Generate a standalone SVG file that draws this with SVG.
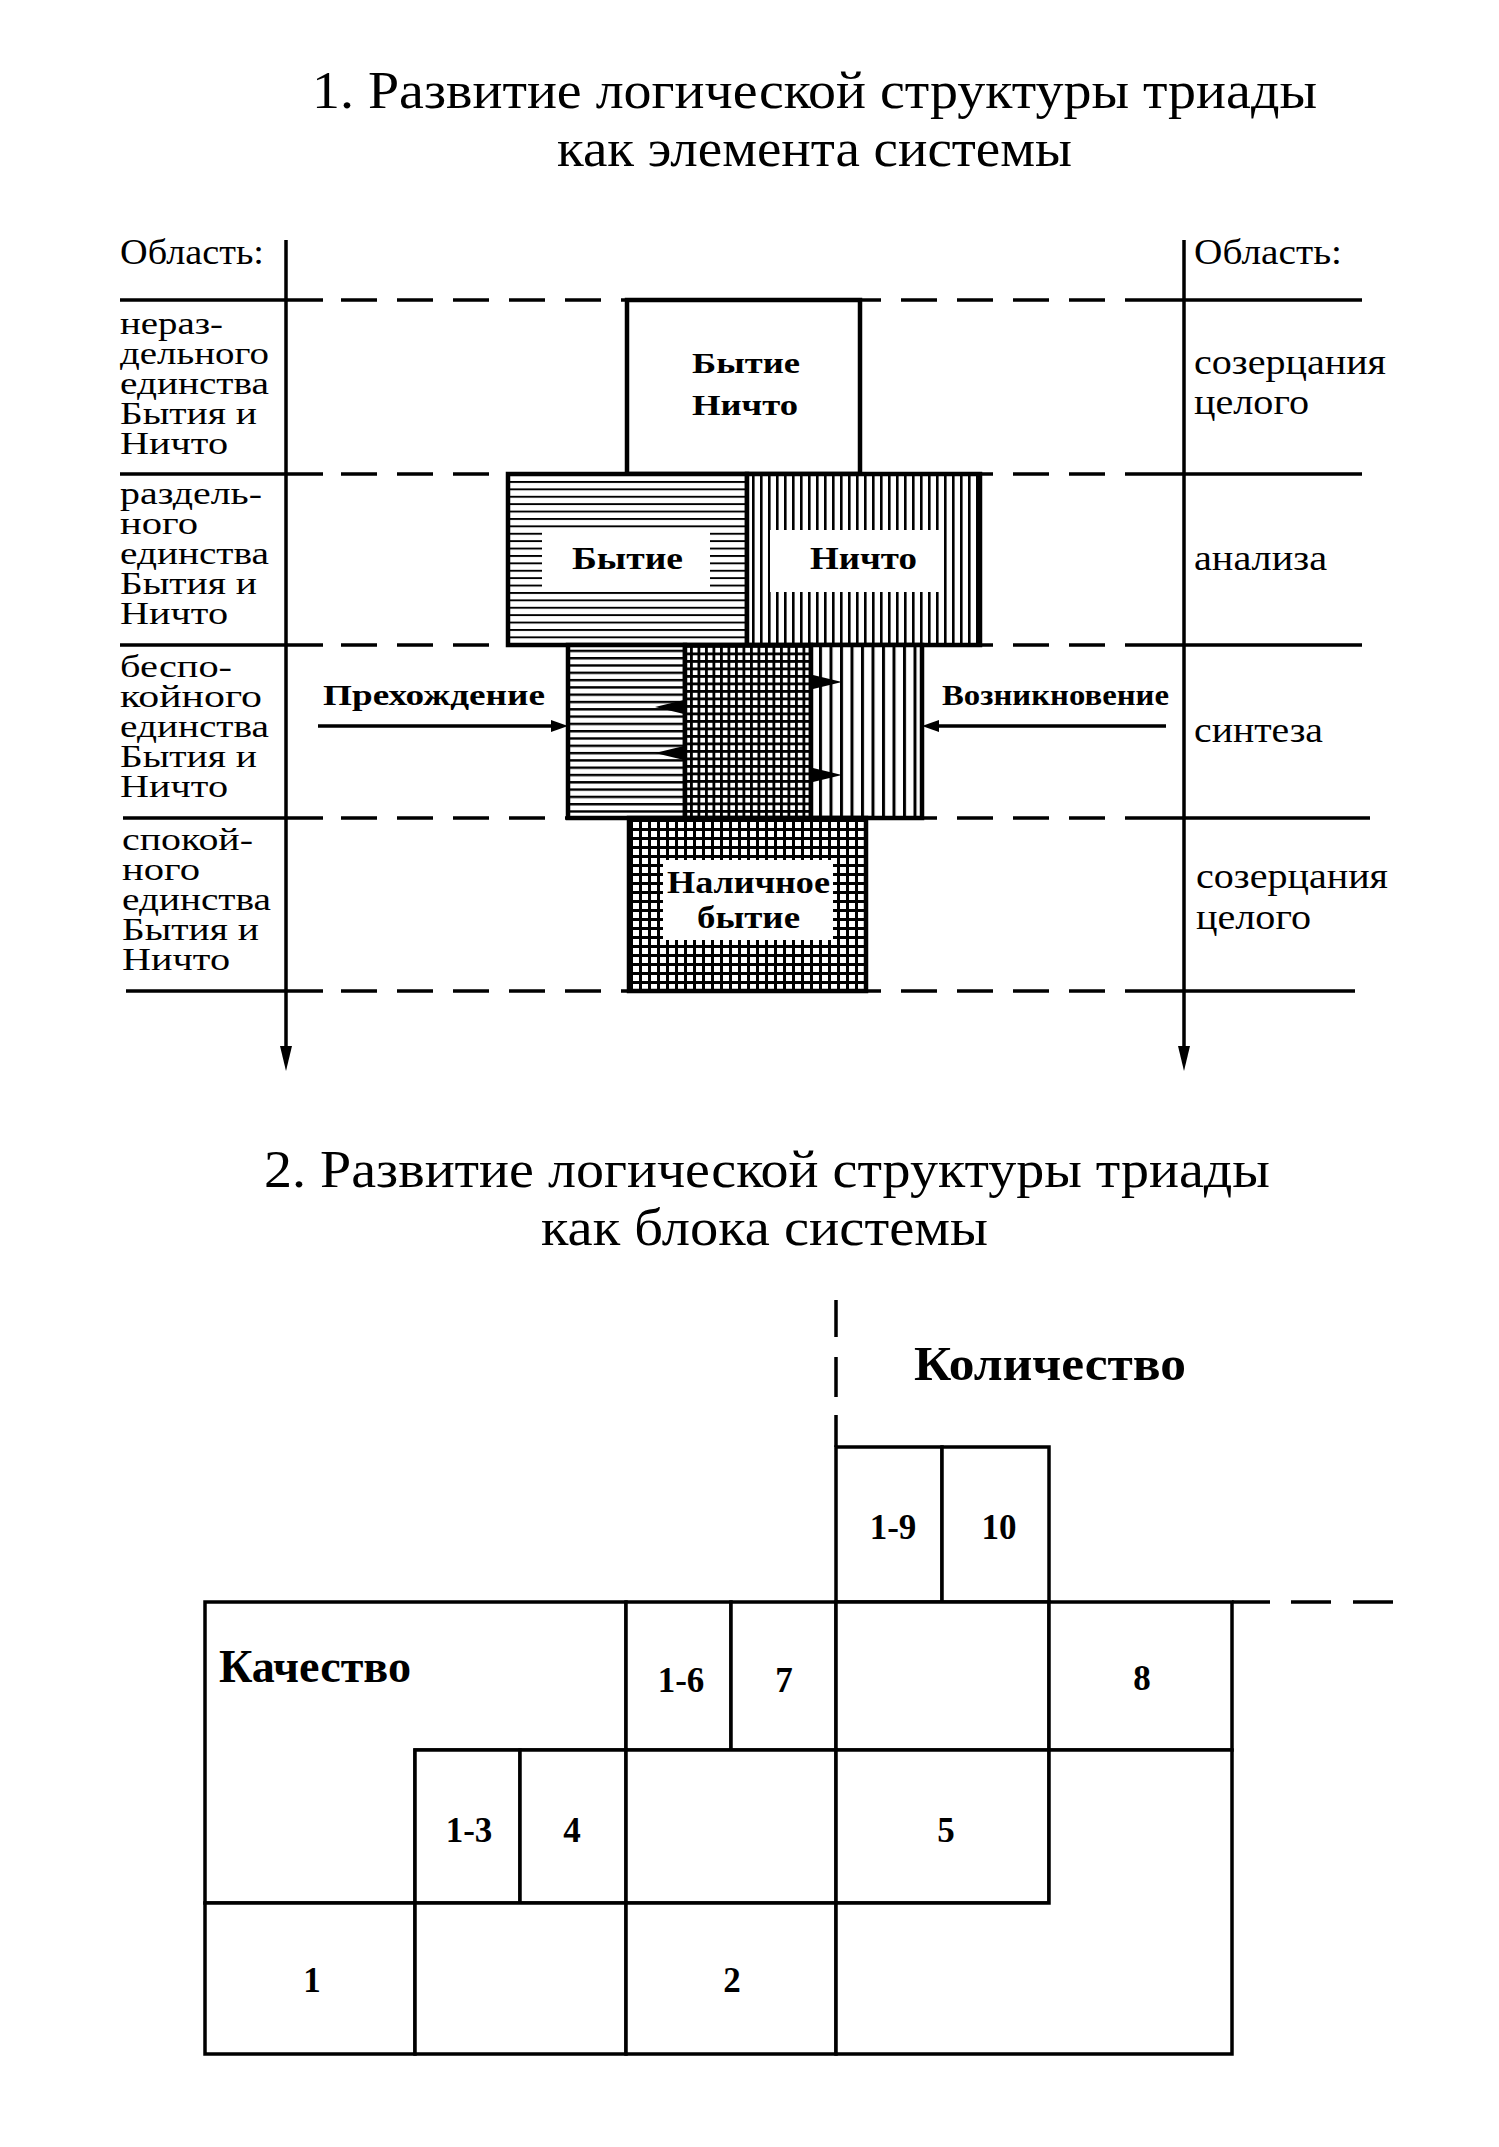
<svg xmlns="http://www.w3.org/2000/svg" width="1499" height="2147" viewBox="0 0 1499 2147">
<style>
text{font-family:"Liberation Serif","DejaVu Serif",serif;fill:#000}
.t{font-size:52px}
.s{font-size:32px}
.r{font-size:36px}
.b{font-weight:bold}
.ln{stroke:#000;stroke-width:3.5;fill:none}
.dl{stroke:#000;stroke-width:3.5;fill:none;stroke-dasharray:36 20}
.bx{stroke:#000;stroke-width:4.5}
.cell{fill:#fff;stroke:#000;stroke-width:3.5}
.num{font-size:35px;font-weight:bold;text-anchor:middle}
.lbl{fill:#fff}
</style>
<defs>
<pattern id="ph" patternUnits="userSpaceOnUse" width="20" height="7.4"><rect width="20" height="7.4" fill="#fff"/><rect width="20" height="1.9" fill="#000"/></pattern>
<pattern id="ph2" patternUnits="userSpaceOnUse" width="20" height="7.3"><rect width="20" height="7.3" fill="#fff"/><rect width="20" height="2.4" fill="#000"/></pattern>
<pattern id="pv" patternUnits="userSpaceOnUse" width="8" height="20"><rect width="8" height="20" fill="#fff"/><rect width="2.6" height="20" fill="#000"/></pattern>
<pattern id="pv2" patternUnits="userSpaceOnUse" width="10.5" height="20"><rect width="10.5" height="20" fill="#fff"/><rect width="3" height="20" fill="#000"/></pattern>
<pattern id="pg" patternUnits="userSpaceOnUse" width="7.5" height="7.5"><rect width="7.5" height="7.5" fill="#000"/><rect x="2.8" y="2.8" width="4.7" height="4.7" fill="#fff"/></pattern>
<pattern id="pg2" patternUnits="userSpaceOnUse" width="9" height="9"><rect width="9" height="9" fill="#000"/><rect x="3" y="3" width="6" height="6" fill="#fff"/></pattern>
</defs>
<rect width="1499" height="2147" fill="#fff"/>

<g id="title1">
<text class="t" x="312" y="108" textLength="1005" lengthAdjust="spacingAndGlyphs">1. Развитие логической структуры триады</text>
<text class="t" x="557" y="166" textLength="515" lengthAdjust="spacingAndGlyphs">как элемента системы</text>
</g>

<g id="bands">
<g id="band-lines">
<path class="ln" d="M120 300H323M1150 300H1362M120 474H323M1150 474H1362M120 645H323M1150 645H1362M123 818H323M1150 818H1370M126 991H323M1150 991H1355"/>
<path class="dl" d="M341 300H1150M341 474H1150M341 645H1150M341 818H1150M341 991H1150"/>
</g>
<g id="left-labels" class="s">
<text x="120" y="264" font-size="35" textLength="144" lengthAdjust="spacingAndGlyphs">Область:</text>
<text x="120" y="334" textLength="103" lengthAdjust="spacingAndGlyphs">нераз-</text>
<text x="120" y="364" textLength="149" lengthAdjust="spacingAndGlyphs">дельного</text>
<text x="120" y="394" textLength="149" lengthAdjust="spacingAndGlyphs">единства</text>
<text x="120" y="424" textLength="137" lengthAdjust="spacingAndGlyphs">Бытия и</text>
<text x="120" y="454" textLength="108" lengthAdjust="spacingAndGlyphs">Ничто</text>
<text x="120" y="504" textLength="142" lengthAdjust="spacingAndGlyphs">раздель-</text>
<text x="120" y="534" textLength="78" lengthAdjust="spacingAndGlyphs">ного</text>
<text x="120" y="564" textLength="149" lengthAdjust="spacingAndGlyphs">единства</text>
<text x="120" y="594" textLength="137" lengthAdjust="spacingAndGlyphs">Бытия и</text>
<text x="120" y="624" textLength="108" lengthAdjust="spacingAndGlyphs">Ничто</text>
<text x="120" y="677" textLength="112" lengthAdjust="spacingAndGlyphs">беспо-</text>
<text x="120" y="707" textLength="142" lengthAdjust="spacingAndGlyphs">койного</text>
<text x="120" y="737" textLength="149" lengthAdjust="spacingAndGlyphs">единства</text>
<text x="120" y="767" textLength="137" lengthAdjust="spacingAndGlyphs">Бытия и</text>
<text x="120" y="797" textLength="108" lengthAdjust="spacingAndGlyphs">Ничто</text>
<text x="122" y="850" textLength="131" lengthAdjust="spacingAndGlyphs">спокой-</text>
<text x="122" y="880" textLength="78" lengthAdjust="spacingAndGlyphs">ного</text>
<text x="122" y="910" textLength="149" lengthAdjust="spacingAndGlyphs">единства</text>
<text x="122" y="940" textLength="137" lengthAdjust="spacingAndGlyphs">Бытия и</text>
<text x="122" y="970" textLength="108" lengthAdjust="spacingAndGlyphs">Ничто</text>
</g>
<g id="right-labels" class="r">
<text x="1194" y="264" textLength="148" lengthAdjust="spacingAndGlyphs">Область:</text>
<text x="1194" y="374" textLength="192" lengthAdjust="spacingAndGlyphs">созерцания</text>
<text x="1194" y="414" textLength="115" lengthAdjust="spacingAndGlyphs">целого</text>
<text x="1194" y="570" textLength="133" lengthAdjust="spacingAndGlyphs">анализа</text>
<text x="1194" y="742" textLength="129" lengthAdjust="spacingAndGlyphs">синтеза</text>
<text x="1196" y="888" textLength="192" lengthAdjust="spacingAndGlyphs">созерцания</text>
<text x="1196" y="929" textLength="115" lengthAdjust="spacingAndGlyphs">целого</text>
</g>
</g>

<g id="n-bytie-nichto">
<rect class="bx" x="627" y="300" width="233" height="174" fill="#fff"/>
<text class="b" x="692" y="373" font-size="30" textLength="108" lengthAdjust="spacingAndGlyphs">Бытие</text>
<text class="b" x="692" y="415" font-size="30" textLength="106" lengthAdjust="spacingAndGlyphs">Ничто</text>
</g>
<g id="n-bytie">
<rect class="bx" x="508" y="474" width="239" height="171" fill="url(#ph)"/>
<rect class="lbl" x="542" y="530" width="168" height="62"/>
<text class="b" x="572" y="569" font-size="32" textLength="111" lengthAdjust="spacingAndGlyphs">Бытие</text>
</g>
<g id="n-nichto">
<rect class="bx" x="747" y="474" width="233" height="171" fill="url(#pv)"/>
<rect class="lbl" x="770" y="530" width="173" height="62"/>
<text class="b" x="810" y="569" font-size="32" textLength="107" lengthAdjust="spacingAndGlyphs">Ничто</text>
</g>
<g id="n-synth-left">
<rect class="bx" x="568" y="645" width="117" height="173" fill="url(#ph2)"/>
</g>
<g id="n-synth-mid">
<rect class="bx" x="685" y="645" width="126" height="173" fill="url(#pg)"/>
</g>
<g id="n-synth-right">
<rect class="bx" x="811" y="645" width="111" height="173" fill="url(#pv2)"/>
</g>
<g id="n-nalichnoe">
<rect class="bx" x="629" y="818" width="237" height="173" fill="url(#pg2)"/>
<rect class="lbl" x="663" y="860" width="170" height="80"/>
<text class="b" x="667" y="893" font-size="32" textLength="163" lengthAdjust="spacingAndGlyphs">Наличное</text>
<text class="b" x="697" y="928" font-size="32" textLength="103" lengthAdjust="spacingAndGlyphs">бытие</text>
</g>
<g id="l-perekh">
<text class="b" x="323" y="705" font-size="30" textLength="222" lengthAdjust="spacingAndGlyphs">Прехождение</text>
</g>
<g id="l-vozn">
<text class="b" x="942" y="705" font-size="30" textLength="227" lengthAdjust="spacingAndGlyphs">Возникновение</text>
</g>

<g id="connectors">
<path class="ln" d="M286 240V1052M1184 240V1052" stroke-width="3.5"/>
<polygon points="280,1046 292,1046 286,1071"/>
<polygon points="1178,1046 1190,1046 1184,1071"/>
<path class="ln" d="M318 726H553M1166 726H937" stroke-width="3.5"/>
<polygon points="551,720 568,726 551,732"/>
<polygon points="939,720 922,726 939,732"/>
<polygon points="684,700 655,707 684,714"/>
<polygon points="684,746 655,753 684,760"/>
<polygon points="813,675 842,682 813,689"/>
<polygon points="813,768 842,775 813,782"/>
</g>

<g id="title2">
<text class="t" x="264" y="1187" textLength="1006" lengthAdjust="spacingAndGlyphs">2. Развитие логической структуры триады</text>
<text class="t" x="541" y="1245" textLength="447" lengthAdjust="spacingAndGlyphs">как блока системы</text>
</g>

<g id="d2-guides">
<path class="ln" d="M836 1300V1337M836 1357V1397M836 1415V1447M1232 1602H1270M1291 1602H1331M1353 1602H1393"/>
</g>
<g id="l-kolichestvo">
<text class="b" x="914" y="1380" font-size="48" textLength="272" lengthAdjust="spacingAndGlyphs">Количество</text>
</g>

<g id="c-19"><rect class="cell" x="836" y="1447" width="106" height="155"/><text class="num" x="893" y="1539">1-9</text></g>
<g id="c-10"><rect class="cell" x="942" y="1447" width="107" height="155"/><text class="num" x="999" y="1539">10</text></g>
<g id="c-kachestvo"><polygon class="cell" points="205,1602 626,1602 626,1750 415,1750 415,1903 205,1903"/>
<text class="b" x="219" y="1682" font-size="46" textLength="192" lengthAdjust="spacingAndGlyphs">Качество</text></g>
<g id="c-16"><rect class="cell" x="626" y="1602" width="105" height="148"/><text class="num" x="681" y="1692">1-6</text></g>
<g id="c-7"><rect class="cell" x="731" y="1602" width="105" height="148"/><text class="num" x="784" y="1692">7</text></g>
<g id="c-r1"><rect class="cell" x="836" y="1602" width="213" height="148"/></g>
<g id="c-8"><rect class="cell" x="1049" y="1602" width="183" height="148"/><text class="num" x="1142" y="1690">8</text></g>
<g id="c-13"><rect class="cell" x="415" y="1750" width="105" height="153"/><text class="num" x="469" y="1842">1-3</text></g>
<g id="c-4"><rect class="cell" x="520" y="1750" width="106" height="153"/><text class="num" x="572" y="1842">4</text></g>
<g id="c-r2"><rect class="cell" x="626" y="1750" width="210" height="153"/></g>
<g id="c-5"><rect class="cell" x="836" y="1750" width="213" height="153"/><text class="num" x="946" y="1842">5</text></g>
<g id="c-1"><rect class="cell" x="205" y="1903" width="210" height="151"/><text class="num" x="312" y="1992">1</text></g>
<g id="c-r3"><rect class="cell" x="415" y="1903" width="211" height="151"/></g>
<g id="c-2"><rect class="cell" x="626" y="1903" width="210" height="151"/><text class="num" x="732" y="1992">2</text></g>
<g id="c-rL"><polygon class="cell" points="836,1903 1049,1903 1049,1750 1232,1750 1232,2054 836,2054"/></g>
</svg>
